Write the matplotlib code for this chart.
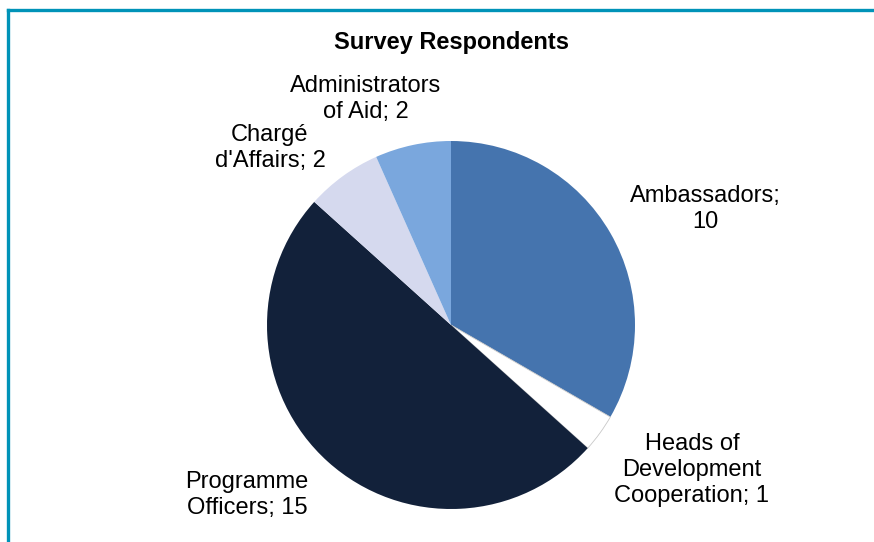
import matplotlib.pyplot as plt

plt.rcParams['font.family'] = ['Liberation Sans', 'DejaVu Sans']

# data
categories = ["Ambassadors", "Heads of\nDevelopment\nCooperation", "Programme\nOfficers",
              "Chargé\nd'Affairs", "Administrators\nof Aid"]
values = [10, 1, 15, 2, 2]
colors = ['#4574AE', '#FFFFFF', '#12213A', '#D5D9EE', '#7AA7DD']

label_texts = ["Ambassadors;\n10", "Heads of\nDevelopment\nCooperation; 1",
               "Programme\nOfficers; 15", "Chargé\nd'Affairs; 2", "Administrators\nof Aid; 2"]
# label centres in pixel coords (x, y from top)
label_pos = [(705, 209), (692, 470), (247, 495), (270, 148), (366, 99)]

W, H = 874, 542
fig = plt.figure(figsize=(W / 100, H / 100), dpi=100)
ax = fig.add_axes([0, 0, 1, 1])
ax.set_xlim(0, W)
ax.set_ylim(0, H)
ax.axis('off')

wedges, _ = ax.pie(values, colors=colors, startangle=90, counterclock=False,
                   center=(451, H - 325), radius=184,
                   wedgeprops=dict(edgecolor='none'))
# white slice gets a faint outline like the original
wedges[1].set_edgecolor('#C8C8C8')
wedges[1].set_linewidth(0.6)
ax.set_xlim(0, W)
ax.set_ylim(0, H)

for txt, (x, y) in zip(label_texts, label_pos):
    ax.text(x, H - y, txt, ha='center', va='center', fontsize=17,
            linespacing=1.25, color='black')

ax.text(451, H - 42, "Survey Respondents", ha='center', va='center',
        fontsize=17, fontweight='bold')

# frame (top and left edges visible)
ax.plot([8, W + 5], [H - 10, H - 10], color='#0093B8', lw=2.4, solid_capstyle='projecting')
ax.plot([8, 8], [H - 10, -5], color='#0093B8', lw=2.4, solid_capstyle='projecting')

fig.savefig('out.png', dpi=100)
